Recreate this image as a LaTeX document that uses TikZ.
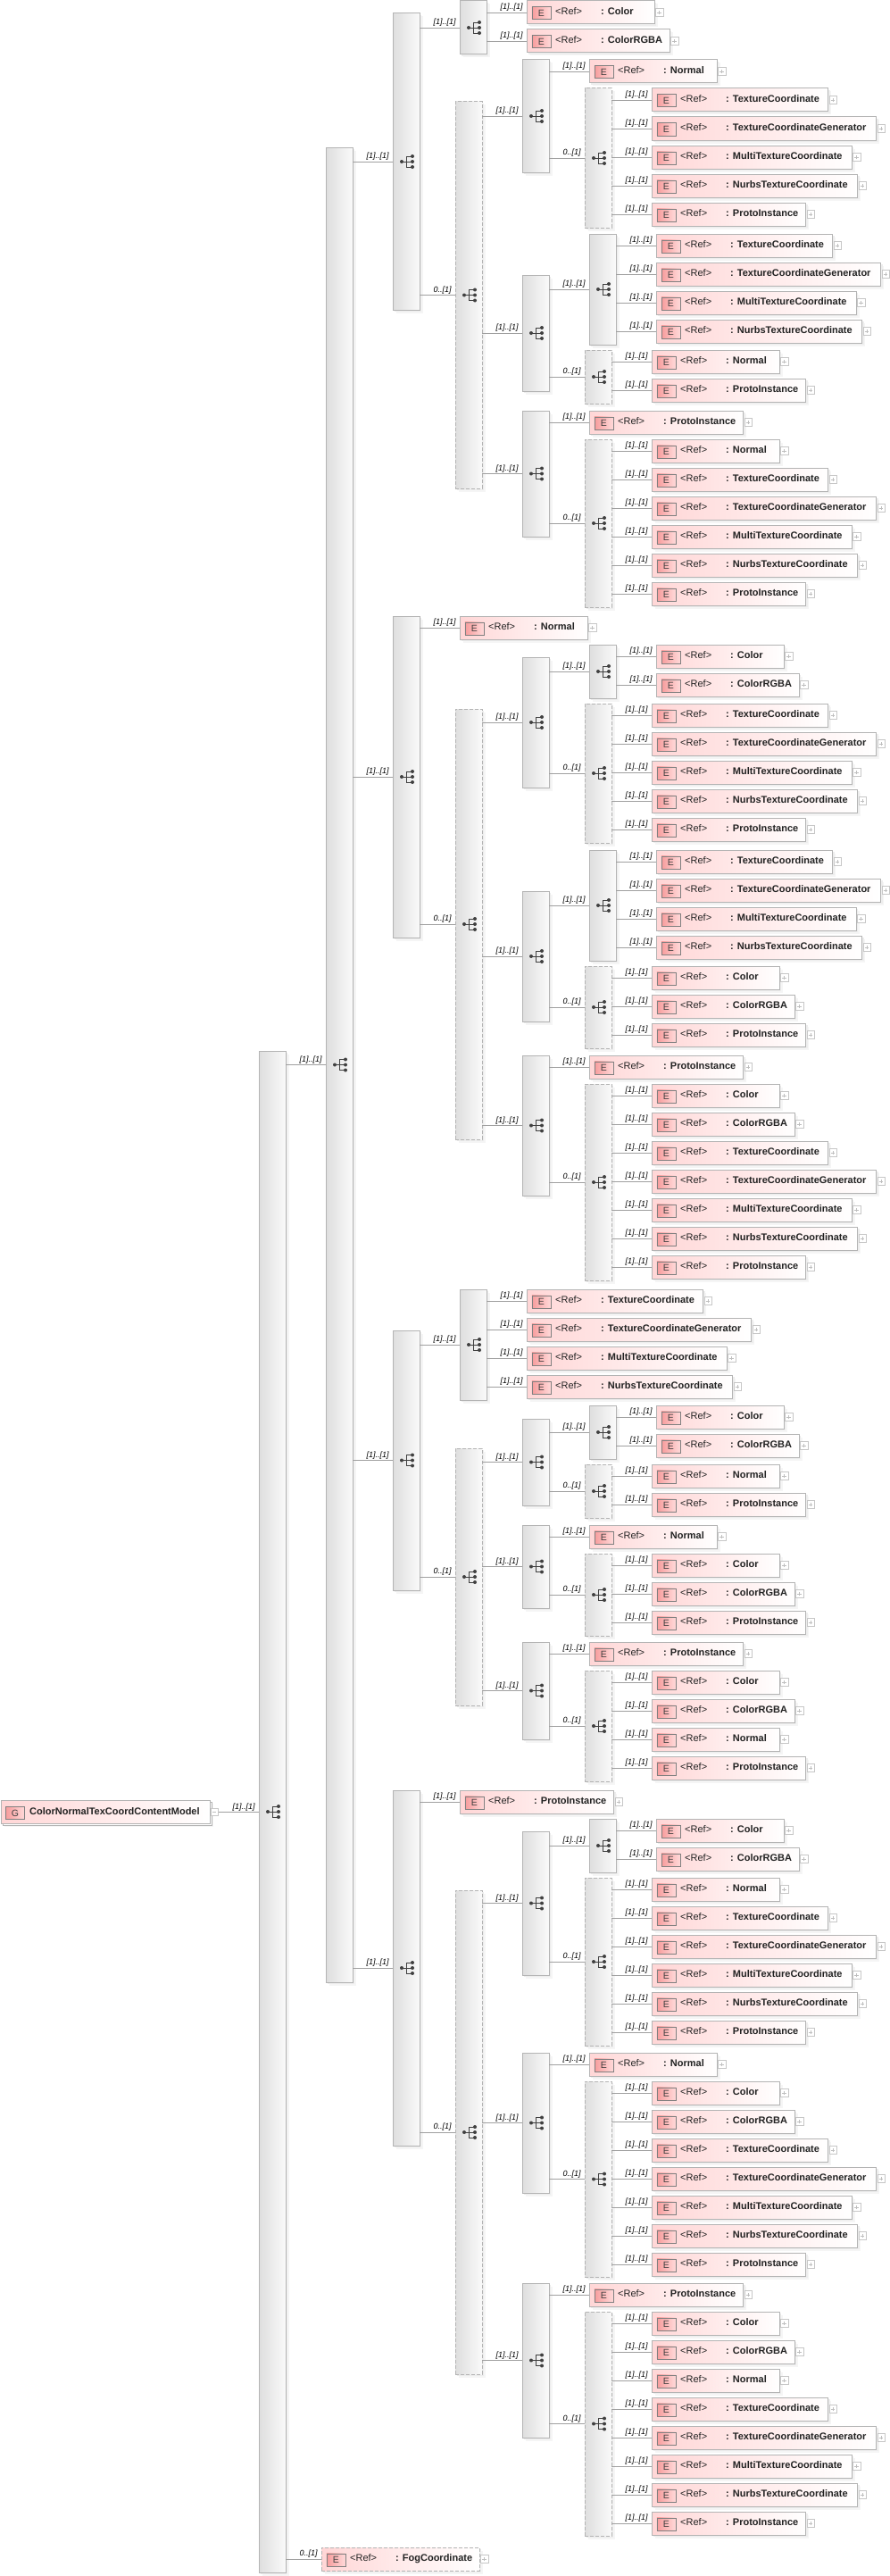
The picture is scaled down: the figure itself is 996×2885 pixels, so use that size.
\documentclass[tikz,border=0pt]{standalone}
\usepackage{fontspec}
\setmainfont{Liberation Sans}
\usetikzlibrary{shadows}
\definecolor{edgegray}{HTML}{B4B4B4}
\definecolor{wiregray}{HTML}{A0A0A0}
\definecolor{inkgray}{HTML}{222222}
\definecolor{iconink}{HTML}{404040}
\definecolor{refpink}{HTML}{FFD6D6}
\definecolor{badgedark}{HTML}{F79C9C}
\definecolor{badgelight}{HTML}{FFD9D9}
\tikzset{
	softshadow/.style={general shadow={fill=black!4, shadow xshift=3.5pt, shadow yshift=-3.5pt},
		general shadow={fill=black!7, shadow xshift=2pt, shadow yshift=-2pt}},
	seqcol/.style={anchor=north west, minimum width=30pt, inner sep=0, outer sep=0, draw=edgegray,
		line width=1pt, left color=black!13, right color=black!2, softshadow},
	optcol/.style={seqcol, dashed, dash pattern=on 4pt off 2pt},
	refcell/.style={anchor=north west, minimum height=26pt, inner sep=0, outer sep=0, draw=edgegray,
		line width=1pt, left color=refpink, right color=white, softshadow},
	badge/.style={anchor=north west, minimum width=21pt, minimum height=14pt, inner sep=0, draw=black!50,
		line width=.8pt, left color=badgedark, right color=badgelight, text=iconink,
		font=\fontsize{10.5}{11}\selectfont},
	reftxt/.style={anchor=base west, inner sep=0, text=inkgray, font=\fontsize{11}{13}\selectfont},
	reftype/.style={reftxt, font=\fontsize{11}{13}\selectfont\bfseries},
	plusbox/.style={anchor=west, minimum size=8.5pt, inner sep=0, draw=black!22, line width=.7pt, fill=white,
		path picture={\draw[black!25, line width=.7pt] ([xshift=2pt]path picture bounding box.west) -- ([xshift=-2pt]path picture bounding box.east)
			([yshift=2pt]path picture bounding box.south) -- ([yshift=-2pt]path picture bounding box.north);}},
	minusbox/.style={plusbox, path picture={\draw[black!25, line width=.7pt] ([xshift=2pt]path picture bounding box.west) -- ([xshift=-2pt]path picture bounding box.east);}},
	wire/.style={draw=wiregray, line width=.9pt},
	card/.style={pos=1, anchor=south east, inner sep=0, xshift=-4pt, yshift=1pt, text=black,
		font=\fontsize{9}{9}\selectfont\itshape},
	seqicon/.pic={
		\fill[iconink] (-5,0) circle (2pt) (7,-6) circle (2pt) (7,0) circle (2pt) (7,6) circle (2pt);
		\draw[iconink, line width=.8pt] (-5,0) -- (7,0) (0,-6) -- (0,6) (0,-6) -- (7,-6) (0,6) -- (7,6);
	},
}
\newcommand{\cardone}{[1]..[1]}
\newcommand{\cardopt}{0..[1]}
% parent, name, x, top, bottom, look, card
\newcommand{\seqbox}[7]{
	\node[#6, minimum height=(#5-#4)*1pt] (#2) at (#3,#4) {};
	\pic at (#2.center) {seqicon};
	\draw[wire] (#1.east |- #2.west) -- (#2.west) node[card] (#2-card) {#7};
}
% look, parent, name, x, top, width, type, card
\newcommand{\refbox}[8][]{
	\node[refcell, #1, minimum width=#6*1pt] (#3) at (#4,#5) {};
	\node[badge] (#3-badge) at (#3.north west) [xshift=5.5pt, yshift=-6.5pt] {E};
	\node[reftxt] (#3-ref) at (#3.north west) [xshift=32pt, yshift=-15.7pt] {<Ref>};
	\node[reftype] (#3-type) at (#3.north west) [xshift=83pt, yshift=-15.7pt] {: #7};
	\node[plusbox] (#3-plus) at (#3.east) [xshift=1pt] {};
	\draw[wire] (#2.east |- #3.west) -- (#3.west) node[card] (#3-card) {#8};
}
\begin{document}
\begin{tikzpicture}[x=1pt, y=-1pt]
	\useasboundingbox (0,0) rectangle (996,2885);

	\node[refcell, minimum width=234pt, general shadow={draw=edgegray, fill=white, shadow xshift=2pt, shadow yshift=-2pt}] (root) at (1,2016.5) {};
	\node[badge] (root-badge) at (root.north west) [xshift=5pt, yshift=-6.5pt] {G};
	\node[reftype] (root-name) at (root.north west) [xshift=32pt, yshift=-15.7pt] {ColorNormalTexCoordContentModel};
	\node[minusbox] (root-minus) at (root.east) [xshift=.5pt] {};
	\node[seqcol, minimum height=1704pt] (a) at (290,1177) {};
	\pic at (a.center) {seqicon};
	\draw[wire] (root-minus.east) -- (a.west |- root-minus.east) node[card] (a-card) {\cardone};

	\seqbox{a}{b}{365}{165}{2220}{seqcol}{\cardone}

	% first branch
	\seqbox{b}{c1}{440}{15}{347}{seqcol}{\cardone}
	\seqbox{c1}{d1}{515}{1}{61}{seqcol}{\cardone}
	\refbox{d1}{d1a}{590}{1}{143}{Color}{\cardone}
	\refbox{d1}{d1b}{590}{33}{160}{ColorRGBA}{\cardone}
	\seqbox{c1}{dd1}{510}{114}{547}{optcol}{\cardopt}
	\seqbox{dd1}{e1}{585}{67}{193}{seqcol}{\cardone}
	\refbox{e1}{e1a}{660}{67}{143}{Normal}{\cardone}
	\seqbox{e1}{ff1}{655}{99}{255}{optcol}{\cardopt}
	\refbox{ff1}{ff1a}{730}{99}{197.5}{TextureCoordinate}{\cardone}
	\refbox{ff1}{ff1b}{730}{131}{251.5}{TextureCoordinateGenerator}{\cardone}
	\refbox{ff1}{ff1c}{730}{163}{224}{MultiTextureCoordinate}{\cardone}
	\refbox{ff1}{ff1d}{730}{195}{230.5}{NurbsTextureCoordinate}{\cardone}
	\refbox{ff1}{ff1e}{730}{227}{172.5}{ProtoInstance}{\cardone}
	\seqbox{dd1}{e2}{585}{308}{438}{seqcol}{\cardone}
	\seqbox{e2}{f2}{660}{262}{386}{seqcol}{\cardone}
	\refbox{f2}{f2a}{735}{262}{197.5}{TextureCoordinate}{\cardone}
	\refbox{f2}{f2b}{735}{294}{251.5}{TextureCoordinateGenerator}{\cardone}
	\refbox{f2}{f2c}{735}{326}{224}{MultiTextureCoordinate}{\cardone}
	\refbox{f2}{f2d}{735}{358}{230.5}{NurbsTextureCoordinate}{\cardone}
	\seqbox{e2}{ff2}{655}{392}{452}{optcol}{\cardopt}
	\refbox{ff2}{ff2a}{730}{392}{143}{Normal}{\cardone}
	\refbox{ff2}{ff2b}{730}{424}{172.5}{ProtoInstance}{\cardone}
	\seqbox{dd1}{e3}{585}{460}{601}{seqcol}{\cardone}
	\refbox{e3}{e3a}{660}{460}{172.5}{ProtoInstance}{\cardone}
	\seqbox{e3}{ff3}{655}{492}{680}{optcol}{\cardopt}
	\refbox{ff3}{ff3a}{730}{492}{143}{Normal}{\cardone}
	\refbox{ff3}{ff3b}{730}{524}{197.5}{TextureCoordinate}{\cardone}
	\refbox{ff3}{ff3c}{730}{556}{251.5}{TextureCoordinateGenerator}{\cardone}
	\refbox{ff3}{ff3d}{730}{588}{224}{MultiTextureCoordinate}{\cardone}
	\refbox{ff3}{ff3e}{730}{620}{230.5}{NurbsTextureCoordinate}{\cardone}
	\refbox{ff3}{ff3f}{730}{652}{172.5}{ProtoInstance}{\cardone}

	% second branch
	\seqbox{b}{c2}{440}{690}{1050}{seqcol}{\cardone}
	\refbox{c2}{c2a}{515}{690}{143}{Normal}{\cardone}
	\seqbox{c2}{dd2}{510}{794}{1276}{optcol}{\cardopt}
	\seqbox{dd2}{e4}{585}{736}{882}{seqcol}{\cardone}
	\seqbox{e4}{f4}{660}{722}{782}{seqcol}{\cardone}
	\refbox{f4}{f4a}{735}{722}{143}{Color}{\cardone}
	\refbox{f4}{f4b}{735}{754}{160}{ColorRGBA}{\cardone}
	\seqbox{e4}{ff4}{655}{788}{944}{optcol}{\cardopt}
	\refbox{ff4}{ff4a}{730}{788}{197.5}{TextureCoordinate}{\cardone}
	\refbox{ff4}{ff4b}{730}{820}{251.5}{TextureCoordinateGenerator}{\cardone}
	\refbox{ff4}{ff4c}{730}{852}{224}{MultiTextureCoordinate}{\cardone}
	\refbox{ff4}{ff4d}{730}{884}{230.5}{NurbsTextureCoordinate}{\cardone}
	\refbox{ff4}{ff4e}{730}{916}{172.5}{ProtoInstance}{\cardone}
	\seqbox{dd2}{e5}{585}{998}{1144}{seqcol}{\cardone}
	\seqbox{e5}{f5}{660}{952}{1076}{seqcol}{\cardone}
	\refbox{f5}{f5a}{735}{952}{197.5}{TextureCoordinate}{\cardone}
	\refbox{f5}{f5b}{735}{984}{251.5}{TextureCoordinateGenerator}{\cardone}
	\refbox{f5}{f5c}{735}{1016}{224}{MultiTextureCoordinate}{\cardone}
	\refbox{f5}{f5d}{735}{1048}{230.5}{NurbsTextureCoordinate}{\cardone}
	\seqbox{e5}{ff5}{655}{1082}{1174}{optcol}{\cardopt}
	\refbox{ff5}{ff5a}{730}{1082}{143}{Color}{\cardone}
	\refbox{ff5}{ff5b}{730}{1114}{160}{ColorRGBA}{\cardone}
	\refbox{ff5}{ff5c}{730}{1146}{172.5}{ProtoInstance}{\cardone}
	\seqbox{dd2}{e6}{585}{1182}{1339}{seqcol}{\cardone}
	\refbox{e6}{e6a}{660}{1182}{172.5}{ProtoInstance}{\cardone}
	\seqbox{e6}{ff6}{655}{1214}{1434}{optcol}{\cardopt}
	\refbox{ff6}{ff6a}{730}{1214}{143}{Color}{\cardone}
	\refbox{ff6}{ff6b}{730}{1246}{160}{ColorRGBA}{\cardone}
	\refbox{ff6}{ff6c}{730}{1278}{197.5}{TextureCoordinate}{\cardone}
	\refbox{ff6}{ff6d}{730}{1310}{251.5}{TextureCoordinateGenerator}{\cardone}
	\refbox{ff6}{ff6e}{730}{1342}{224}{MultiTextureCoordinate}{\cardone}
	\refbox{ff6}{ff6f}{730}{1374}{230.5}{NurbsTextureCoordinate}{\cardone}
	\refbox{ff6}{ff6g}{730}{1406}{172.5}{ProtoInstance}{\cardone}

	% third branch
	\seqbox{b}{c3}{440}{1490}{1781}{seqcol}{\cardone}
	\seqbox{c3}{d3}{515}{1444}{1568}{seqcol}{\cardone}
	\refbox{d3}{d3a}{590}{1444}{197.5}{TextureCoordinate}{\cardone}
	\refbox{d3}{d3b}{590}{1476}{251.5}{TextureCoordinateGenerator}{\cardone}
	\refbox{d3}{d3c}{590}{1508}{224}{MultiTextureCoordinate}{\cardone}
	\refbox{d3}{d3d}{590}{1540}{230.5}{NurbsTextureCoordinate}{\cardone}
	\seqbox{c3}{dd3}{510}{1622}{1910}{optcol}{\cardopt}
	\seqbox{dd3}{e7}{585}{1589}{1686}{seqcol}{\cardone}
	\seqbox{e7}{f7}{660}{1574}{1634}{seqcol}{\cardone}
	\refbox{f7}{f7a}{735}{1574}{143}{Color}{\cardone}
	\refbox{f7}{f7b}{735}{1606}{160}{ColorRGBA}{\cardone}
	\seqbox{e7}{ff7}{655}{1640}{1700}{optcol}{\cardopt}
	\refbox{ff7}{ff7a}{730}{1640}{143}{Normal}{\cardone}
	\refbox{ff7}{ff7b}{730}{1672}{172.5}{ProtoInstance}{\cardone}
	\seqbox{dd3}{e8}{585}{1708}{1801}{seqcol}{\cardone}
	\refbox{e8}{e8a}{660}{1708}{143}{Normal}{\cardone}
	\seqbox{e8}{ff8}{655}{1740}{1832}{optcol}{\cardopt}
	\refbox{ff8}{ff8a}{730}{1740}{143}{Color}{\cardone}
	\refbox{ff8}{ff8b}{730}{1772}{160}{ColorRGBA}{\cardone}
	\refbox{ff8}{ff8c}{730}{1804}{172.5}{ProtoInstance}{\cardone}
	\seqbox{dd3}{e9}{585}{1839}{1948}{seqcol}{\cardone}
	\refbox{e9}{e9a}{660}{1839}{172.5}{ProtoInstance}{\cardone}
	\seqbox{e9}{ff9}{655}{1871}{1995}{optcol}{\cardopt}
	\refbox{ff9}{ff9a}{730}{1871}{143}{Color}{\cardone}
	\refbox{ff9}{ff9b}{730}{1903}{160}{ColorRGBA}{\cardone}
	\refbox{ff9}{ff9c}{730}{1935}{143}{Normal}{\cardone}
	\refbox{ff9}{ff9d}{730}{1967}{172.5}{ProtoInstance}{\cardone}

	% fourth branch
	\seqbox{b}{c4}{440}{2005}{2403}{seqcol}{\cardone}
	\refbox{c4}{c4a}{515}{2005}{172.5}{ProtoInstance}{\cardone}
	\seqbox{c4}{dd4}{510}{2117}{2659}{optcol}{\cardopt}
	\seqbox{dd4}{e10}{585}{2051}{2212}{seqcol}{\cardone}
	\seqbox{e10}{f10}{660}{2037}{2097}{seqcol}{\cardone}
	\refbox{f10}{f10a}{735}{2037}{143}{Color}{\cardone}
	\refbox{f10}{f10b}{735}{2069}{160}{ColorRGBA}{\cardone}
	\seqbox{e10}{ff10}{655}{2103}{2291}{optcol}{\cardopt}
	\refbox{ff10}{ff10a}{730}{2103}{143}{Normal}{\cardone}
	\refbox{ff10}{ff10b}{730}{2135}{197.5}{TextureCoordinate}{\cardone}
	\refbox{ff10}{ff10c}{730}{2167}{251.5}{TextureCoordinateGenerator}{\cardone}
	\refbox{ff10}{ff10d}{730}{2199}{224}{MultiTextureCoordinate}{\cardone}
	\refbox{ff10}{ff10e}{730}{2231}{230.5}{NurbsTextureCoordinate}{\cardone}
	\refbox{ff10}{ff10f}{730}{2263}{172.5}{ProtoInstance}{\cardone}
	\seqbox{dd4}{e11}{585}{2299}{2456}{seqcol}{\cardone}
	\refbox{e11}{e11a}{660}{2299}{143}{Normal}{\cardone}
	\seqbox{e11}{ff11}{655}{2331}{2550}{optcol}{\cardopt}
	\refbox{ff11}{ff11a}{730}{2331}{143}{Color}{\cardone}
	\refbox{ff11}{ff11b}{730}{2363}{160}{ColorRGBA}{\cardone}
	\refbox{ff11}{ff11c}{730}{2395}{197.5}{TextureCoordinate}{\cardone}
	\refbox{ff11}{ff11d}{730}{2427}{251.5}{TextureCoordinateGenerator}{\cardone}
	\refbox{ff11}{ff11e}{730}{2459}{224}{MultiTextureCoordinate}{\cardone}
	\refbox{ff11}{ff11f}{730}{2491}{230.5}{NurbsTextureCoordinate}{\cardone}
	\refbox{ff11}{ff11g}{730}{2523}{172.5}{ProtoInstance}{\cardone}
	\seqbox{dd4}{e12}{585}{2557}{2730}{seqcol}{\cardone}
	\refbox{e12}{e12a}{660}{2557}{172.5}{ProtoInstance}{\cardone}
	\seqbox{e12}{ff12}{655}{2589}{2840}{optcol}{\cardopt}
	\refbox{ff12}{ff12a}{730}{2589}{143}{Color}{\cardone}
	\refbox{ff12}{ff12b}{730}{2621}{160}{ColorRGBA}{\cardone}
	\refbox{ff12}{ff12c}{730}{2653}{143}{Normal}{\cardone}
	\refbox{ff12}{ff12d}{730}{2685}{197.5}{TextureCoordinate}{\cardone}
	\refbox{ff12}{ff12e}{730}{2717}{251.5}{TextureCoordinateGenerator}{\cardone}
	\refbox{ff12}{ff12f}{730}{2749}{224}{MultiTextureCoordinate}{\cardone}
	\refbox{ff12}{ff12g}{730}{2781}{230.5}{NurbsTextureCoordinate}{\cardone}
	\refbox{ff12}{ff12h}{730}{2813}{172.5}{ProtoInstance}{\cardone}

	\refbox[dashed, dash pattern=on 4pt off 2pt]{a}{fog}{360}{2853}{177}{FogCoordinate}{\cardopt}
\end{tikzpicture}
\end{document}
